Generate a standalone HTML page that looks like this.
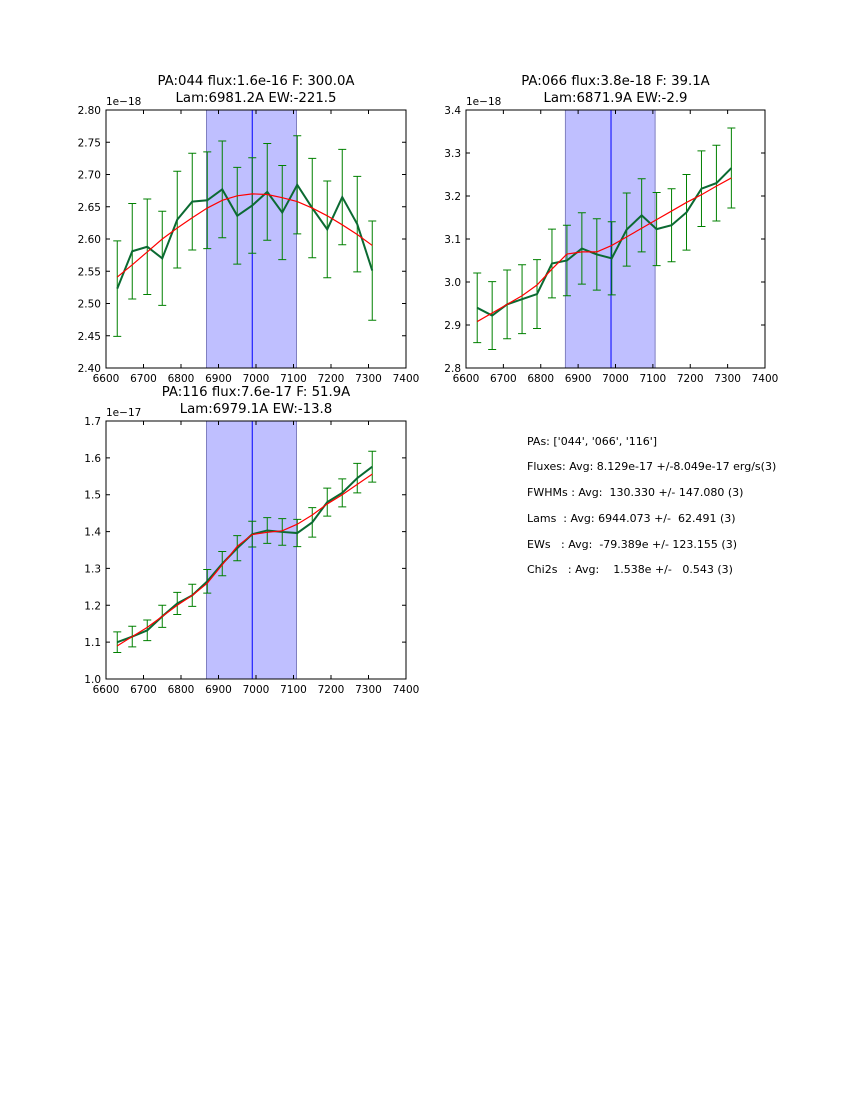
<!DOCTYPE html>
<html><head><meta charset="utf-8"><style>
body{margin:0;background:#fff;}
svg text{font-family:"DejaVu Sans","Liberation Sans",sans-serif;fill:#000;}
</style></head><body>
<svg id="fig" width="850" height="1100" xmlns="http://www.w3.org/2000/svg">
<rect width="850" height="1100" fill="#fff"/>
<g id="info" font-size="11">
<text x="527" y="445" xml:space="preserve">PAs: ['044', '066', '116']</text>
<text x="527" y="470" xml:space="preserve">Fluxes: Avg: 8.129e-17 +/-8.049e-17 erg/s(3)</text>
<text x="527" y="496" xml:space="preserve">FWHMs : Avg:  130.330 +/- 147.080 (3)</text>
<text x="527" y="522" xml:space="preserve">Lams  : Avg: 6944.073 +/-  62.491 (3)</text>
<text x="527" y="548" xml:space="preserve">EWs   : Avg:  -79.389e +/- 123.155 (3)</text>
<text x="527" y="573" xml:space="preserve">Chi2s   : Avg:    1.538e +/-   0.543 (3)</text>
</g>
</svg>
<script>
const wavelengths=[6630,6670,6710,6750,6790,6830,6870,6910,6950,6990,7030,7070,7110,7150,7190,7230,7270,7310];
const xTicks=[6600,6700,6800,6900,7000,7100,7200,7300,7400];
const flux1=[2.523,2.581,2.588,2.570,2.630,2.658,2.660,2.677,2.636,2.652,2.673,2.641,2.684,2.648,2.615,2.665,2.623,2.551];
const err1=[0.074,0.074,0.074,0.073,0.075,0.075,0.075,0.075,0.075,0.074,0.075,0.073,0.076,0.077,0.075,0.074,0.074,0.077];
const fit1=[2.541,2.560,2.580,2.600,2.617,2.633,2.648,2.660,2.667,2.670,2.669,2.664,2.658,2.648,2.636,2.622,2.607,2.590];
const yTicks1=[2.40,2.45,2.50,2.55,2.60,2.65,2.70,2.75,2.80];
const flux2=[2.940,2.922,2.948,2.960,2.972,3.043,3.050,3.078,3.064,3.055,3.122,3.155,3.123,3.132,3.162,3.217,3.230,3.265];
const err2=[0.081,0.079,0.080,0.080,0.080,0.080,0.082,0.083,0.083,0.085,0.085,0.085,0.085,0.085,0.088,0.088,0.088,0.093];
const fit2=[2.908,2.928,2.948,2.968,2.993,3.030,3.065,3.070,3.070,3.085,3.105,3.125,3.145,3.165,3.185,3.203,3.223,3.242];
const yTicks2=[2.8,2.9,3.0,3.1,3.2,3.3,3.4];
const flux3=[1.100,1.115,1.132,1.170,1.205,1.227,1.265,1.313,1.355,1.393,1.403,1.399,1.396,1.425,1.480,1.505,1.545,1.576];
const err3=[0.028,0.028,0.028,0.030,0.030,0.030,0.032,0.033,0.034,0.035,0.035,0.036,0.037,0.040,0.038,0.038,0.040,0.042];
const fit3=[1.090,1.115,1.140,1.170,1.200,1.227,1.260,1.310,1.360,1.392,1.398,1.402,1.420,1.445,1.475,1.500,1.528,1.556];
const yTicks3=[1.0,1.1,1.2,1.3,1.4,1.5,1.6,1.7];
const bands=[[6868,7108,6990],[6866,7106,6988],[6868,7108,6990]];

const NS="http://www.w3.org/2000/svg";
const fig=document.getElementById('fig');
function mk(tag,attrs,parent){const e=document.createElementNS(NS,tag);for(const k in attrs)e.setAttribute(k,attrs[k]);(parent||fig).appendChild(e);return e;}

function plot(cfg){
  const {x0,y0,w,h,yTicks,flux,err,fit,band,title1,title2,mult,ydec,name}=cfg;
  const g=mk('g',{});
  
  
  const xmin=xTicks[0],xmax=xTicks[xTicks.length-1];
  const ymin=yTicks[0],ymax=yTicks[yTicks.length-1];
  const sx=v=>x0+(v-xmin)/(xmax-xmin)*w;
  const sy=v=>y0+h-(v-ymin)/(ymax-ymin)*h;
  const b=mk('rect',{x:sx(band[0]),y:y0,width:sx(band[1])-sx(band[0]),height:h,fill:'#bfbfff',stroke:'#8080c0','stroke-width':1},g);
  
  
  const vl=mk('line',{x1:sx(band[2]),x2:sx(band[2]),y1:y0,y2:y0+h,stroke:'#0000ff','stroke-width':1},g);
  
  
  wavelengths.forEach((wl,i)=>{
    const x=sx(wl),ya=sy(flux[i]-err[i]),yb=sy(flux[i]+err[i]);
    const eb=mk('path',{d:`M${x},${ya}V${yb}M${x-4},${ya}H${x+4}M${x-4},${yb}H${x+4}`,stroke:'#008000','stroke-width':1,fill:'none'},g);
    
    
  });
  const dl=mk('polyline',{points:wavelengths.map((wl,i)=>sx(wl)+','+sy(flux[i])).join(' '),stroke:'#0b6a32','stroke-width':2,fill:'none'},g);
  
  
  const fl=mk('polyline',{points:wavelengths.map((wl,i)=>sx(wl)+','+sy(fit[i])).join(' '),stroke:'#ff0000','stroke-width':1.2,fill:'none'},g);
  
  
  const fr=mk('rect',{x:x0,y:y0,width:w,height:h,fill:'none',stroke:'#000','stroke-width':1},g);
  
  
  xTicks.forEach(t=>{
    const x=sx(t);
    mk('path',{d:`M${x},${y0+h}v-4M${x},${y0}v4`,stroke:'#000','stroke-width':1},g);
    const tx=mk('text',{x:x,y:y0+h+14,'font-size':10.5,'text-anchor':'middle'},g);
    tx.textContent=t;
    
    
  });
  yTicks.forEach(t=>{
    const y=sy(t);
    mk('path',{d:`M${x0},${y}h4M${x0+w},${y}h-4`,stroke:'#000','stroke-width':1},g);
    const ty=mk('text',{x:x0-5,y:y+4,'font-size':10.5,'text-anchor':'end'},g);
    ty.textContent=t.toFixed(ydec);
    
    
  });
  const m=mk('text',{x:x0,y:y0-5,'font-size':10.5},g);
  m.textContent=mult;
  
  
  const t1=mk('text',{x:x0+w/2,y:y0-25,'font-size':13.3,'text-anchor':'middle'},g);
  t1.textContent=title1;
  
  
  const t2=mk('text',{x:x0+w/2,y:y0-8,'font-size':13.3,'text-anchor':'middle'},g);
  t2.textContent=title2;
  
  
}
plot({name:'panel-pa044',x0:106,y0:110,w:300,h:258,yTicks:yTicks1,flux:flux1,err:err1,fit:fit1,band:bands[0],title1:'PA:044 flux:1.6e-16 F: 300.0A',title2:'Lam:6981.2A EW:-221.5',mult:'1e\u221218',ydec:2});
plot({name:'panel-pa066',x0:466,y0:110,w:299,h:258,yTicks:yTicks2,flux:flux2,err:err2,fit:fit2,band:bands[1],title1:'PA:066 flux:3.8e-18 F: 39.1A',title2:'Lam:6871.9A EW:-2.9',mult:'1e\u221218',ydec:1});
plot({name:'panel-pa116',x0:106,y0:421,w:300,h:258,yTicks:yTicks3,flux:flux3,err:err3,fit:fit3,band:bands[2],title1:'PA:116 flux:7.6e-17 F: 51.9A',title2:'Lam:6979.1A EW:-13.8',mult:'1e\u221217',ydec:1});
</script>
</body></html>
